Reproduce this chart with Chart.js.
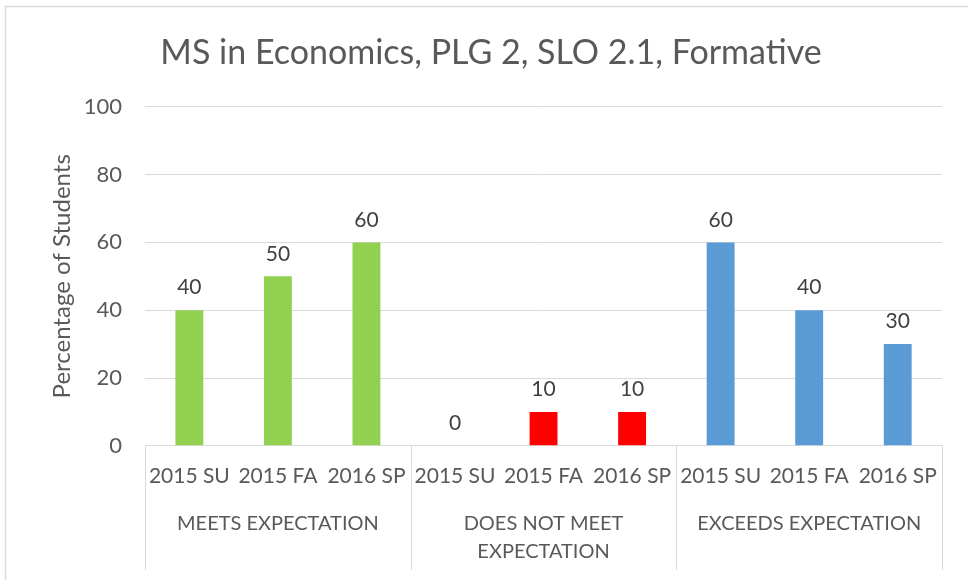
<!DOCTYPE html>
<html>
<head>
<meta charset="utf-8">
<script src="https://cdn.jsdelivr.net/npm/chart.js@4"></script>
<style>
  html, body { margin: 0; padding: 0; background: #fff; overflow: hidden; }
  #wrap { width: 968px; height: 580px; }
</style>
</head>
<body>
<div id="wrap"><canvas id="chart" width="968" height="580"></canvas></div>
<script>
"use strict";

const terms = ["2015 SU", "2015 FA", "2016 SP"];
const groups = ["MEETS EXPECTATION", ["DOES NOT MEET", "EXPECTATION"], "EXCEEDS EXPECTATION"];
const meetsValues = [40, 50, 60];
const doesNotMeetValues = [0, 10, 10];
const exceedsValues = [60, 40, 30];
const groupColors = ["#92D050", "#FF0000", "#5B9BD5"];
const yTicks = [0, 20, 40, 60, 80, 100];

const labels = [].concat(terms, terms, terms);
const values = [].concat(meetsValues, doesNotMeetValues, exceedsValues);
const colors = [];
groupColors.forEach(function (c) {
  for (let i = 0; i < terms.length; i++) colors.push(c);
});

const textColor = "#595959";
const gridColor = "#d9d9d9";
const fontFamily = "Lato, 'Open Sans', sans-serif";

const frame = {
  id: "frame",
  beforeDraw(chart) {
    const ctx = chart.ctx;
    ctx.save();
    ctx.fillStyle = "#fff";
    ctx.fillRect(0, 0, chart.width, chart.height);
    ctx.strokeStyle = gridColor;
    ctx.lineWidth = 1.5;
    ctx.strokeRect(5.5, 6.5, chart.width + 20, chart.height + 20);
    ctx.restore();
  },
};

const separators = {
  id: "separators",
  afterDraw(chart) {
    const x = chart.scales.x;
    const x2 = chart.scales.x2;
    const ctx = chart.ctx;
    ctx.save();
    ctx.strokeStyle = gridColor;
    ctx.lineWidth = 1;
    for (let i = 0; i <= labels.length; i += terms.length) {
      const px = Math.round(x.getPixelForValue(i - 0.5)) + 0.5;
      ctx.beginPath();
      ctx.moveTo(px, chart.chartArea.bottom);
      ctx.lineTo(px, x2.bottom + 1);
      ctx.stroke();
    }
    ctx.restore();
  },
};

const valueLabels = {
  id: "valueLabels",
  afterDatasetsDraw(chart) {
    const ctx = chart.ctx;
    const meta = chart.getDatasetMeta(0);
    ctx.save();
    ctx.fillStyle = "#404040";
    ctx.font = "21px " + fontFamily;
    ctx.textAlign = "center";
    ctx.textBaseline = "bottom";
    meta.data.forEach(function (bar, i) {
      ctx.fillText(String(values[i]), bar.x, bar.y - 12);
    });
    ctx.restore();
  },
};

new Chart(document.getElementById("chart"), {
  type: "bar",
  data: {
    labels: labels,
    datasets: [
      {
        data: values,
        backgroundColor: colors,
        borderWidth: 0,
        barPercentage: 0.315,
        categoryPercentage: 1,
      },
    ],
  },
  options: {
    responsive: false,
    animation: false,
    layout: { padding: { left: 40, right: 26, top: 14, bottom: 11 } },
    plugins: {
      legend: { display: false },
      tooltip: { enabled: false },
      title: {
        display: true,
        text: "MS in Economics, PLG 2, SLO 2.1, Formative",
        color: textColor,
        font: { family: fontFamily, size: 34, weight: "normal" },
        padding: { top: 19, bottom: 33 },
      },
    },
    scales: {
      x: {
        offset: true,
        grid: { display: false, drawTicks: false },
        border: { display: true, color: gridColor },
        ticks: {
          color: textColor,
          font: { family: fontFamily, size: 21 },
          padding: 18,
          maxRotation: 0,
          autoSkip: false,
        },
      },
      x2: {
        type: "category",
        position: "bottom",
        labels: groups,
        offset: true,
        grid: { display: false, drawTicks: false },
        border: { display: false },
        ticks: {
          color: textColor,
          font: { family: fontFamily, size: 20, lineHeight: 1.4 },
          padding: 3,
          maxRotation: 0,
          autoSkip: false,
        },
      },
      y: {
        min: 0,
        max: 100,
        afterBuildTicks(scale) {
          scale.ticks = yTicks.map(function (v) { return { value: v }; });
        },
        grid: { color: gridColor, drawTicks: false },
        border: { display: false },
        ticks: {
          color: textColor,
          font: { family: fontFamily, size: 22 },
          padding: 23,
        },
        title: {
          display: true,
          text: "Percentage of Students",
          color: textColor,
          font: { family: fontFamily, size: 24 },
          padding: { top: 8, bottom: -16 },
        },
      },
    },
  },
  plugins: [frame, separators, valueLabels],
});
</script>
</body>
</html>
